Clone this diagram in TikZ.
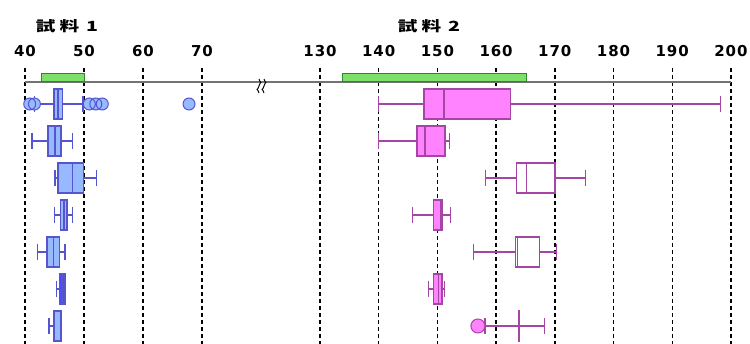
\documentclass[tikz,border=0pt]{standalone}
\usepackage{fontspec}
\usepackage{tikz}
\newfontfamily\jpfont{Noto Sans CJK JP}
\newfontfamily\numfont[LetterSpace=6]{DejaVu Sans}
\definecolor{axisgray}{RGB}{115,115,115}
\definecolor{barfill}{RGB}{125,225,105}
\definecolor{barline}{RGB}{45,135,45}
\definecolor{blueline}{RGB}{85,85,205}
\definecolor{bluefill}{RGB}{150,185,255}
\definecolor{bluedark}{RGB}{75,75,250}
\definecolor{magline}{RGB}{165,70,165}
\definecolor{magfill}{RGB}{255,130,255}
\tikzset{
  gridline/.style = {draw=black, line width=1.4pt, dash pattern=on 4pt off 3pt},
  axisline/.style = {draw=axisgray, line width=2pt},
  rangebar/.style = {draw=barline, fill=barfill, line width=1pt},
  bluebox/.style  = {draw=blueline, fill=bluefill, line width=1.4pt},
  bluefull/.style = {bluebox, fill=bluedark},
  magbox/.style   = {draw=magline, fill=magfill, line width=1.4pt},
  magopen/.style  = {magbox, fill=white},
  outlier/.style  = {line width=1pt},
  brk/.style      = {draw=black, line width=1pt},
  numlabel/.style = {font=\numfont\bfseries\fontsize{15}{15}\selectfont},
  title/.style    = {font=\jpfont\bfseries\fontsize{14}{14}\selectfont}
}
\newcommand\boxrow[7]{%
  \draw[#1, fill=none] (#3,#2) -- (#4,#2) (#6,#2) -- (#7,#2)
    (#3,#2-8) -- (#3,#2+8) (#7,#2-8) -- (#7,#2+8);
  \draw[#1] (#4,#2-15) rectangle (#6,#2+15) (#5,#2-15) -- (#5,#2+15);
}
\begin{document}
\begin{tikzpicture}[x=1pt, y=-1pt]
 \useasboundingbox[fill=white] (0,0) rectangle (750,344);

 \node[title] (title1) at (67,26) {\scalebox{1.4}[1]{試\hspace{3pt}料\hspace{5pt}1}};
 \node[title] (title2) at (429,26) {\scalebox{1.4}[1]{試\hspace{3pt}料\hspace{5pt}2}};

 \begin{scope}[shift={(-211pt,0pt)}, x=5.9pt]
  \foreach \v in {40,50,60,70} {
    \draw[gridline] (\v,68) -- (\v,344);
    \node[numlabel] (n\v) at (\v,51.5) {\v};
  }
 \end{scope}
 \begin{scope}[shift={(-443.1pt,0pt)}, x=5.87pt]
  \foreach \v in {130,140,...,200} {
    \draw[gridline] (\v,68) -- (\v,344);
    \node[numlabel] (n\v) at (\v,51.5) {\v};
  }
 \end{scope}

 \draw[axisline] (25,82) -- (731,82);
 \draw[brk] (259,79) sin (261,82.5) cos (259,86) sin (257,89.5) cos (259,93);
 \draw[brk] (264,79) sin (266,82.5) cos (264,86) sin (262,89.5) cos (264,93);

 \begin{scope}[shift={(-211pt,0pt)}, x=5.9pt]
  \draw[rangebar] (42.8,74) rectangle (50,82);
  \boxrow{bluebox}{104}{41.6}{44.9}{45.6}{46.4}{49.8}
  \draw[bluebox, outlier] (40.8,104) circle (6pt) (41.6,104) circle (6pt)
    (50.9,104) circle (6pt) (52,104) circle (6pt) (53.1,104) circle (6pt)
    (67.8,104) circle (6pt);
  \boxrow{bluebox}{141}{41.2}{43.9}{45.1}{46.1}{48.0}
  \boxrow{bluebox}{178}{45.1}{45.6}{48.0}{49.9}{52.1}
  \boxrow{bluebox}{215}{45.0}{46.0}{46.6}{47.1}{48.1}
  \boxrow{bluebox}{252}{42.1}{43.7}{44.8}{45.8}{46.8}
  \boxrow{bluefull}{289}{45.3}{45.8}{46.3}{46.8}{46.8}
  \boxrow{bluebox}{326}{44.1}{44.9}{45.0}{46.1}{46.1}
 \end{scope}

 \begin{scope}[shift={(-443.1pt,0pt)}, x=5.87pt]
  \draw[rangebar] (133.9,74) rectangle (165.2,82);
  \boxrow{magbox}{104}{140}{147.7}{151.1}{162.5}{198.2}
  \boxrow{magbox}{141}{140}{146.5}{147.9}{151.3}{152.1}
  \boxrow{magopen}{178}{158.2}{163.5}{165.2}{170.0}{175.2}
  \boxrow{magbox}{215}{145.8}{149.3}{150.6}{150.8}{152.2}
  \boxrow{magopen}{252}{156.1}{163.3}{163.6}{167.4}{170.3}
  \boxrow{magbox}{289}{148.5}{149.3}{150.2}{150.8}{151.2}
  \boxrow{magbox}{326}{158.1}{163.8}{163.9}{164.0}{168.2}
  \draw[magbox, outlier] (156.9,326) circle (7pt);
 \end{scope}
\end{tikzpicture}
\end{document}
